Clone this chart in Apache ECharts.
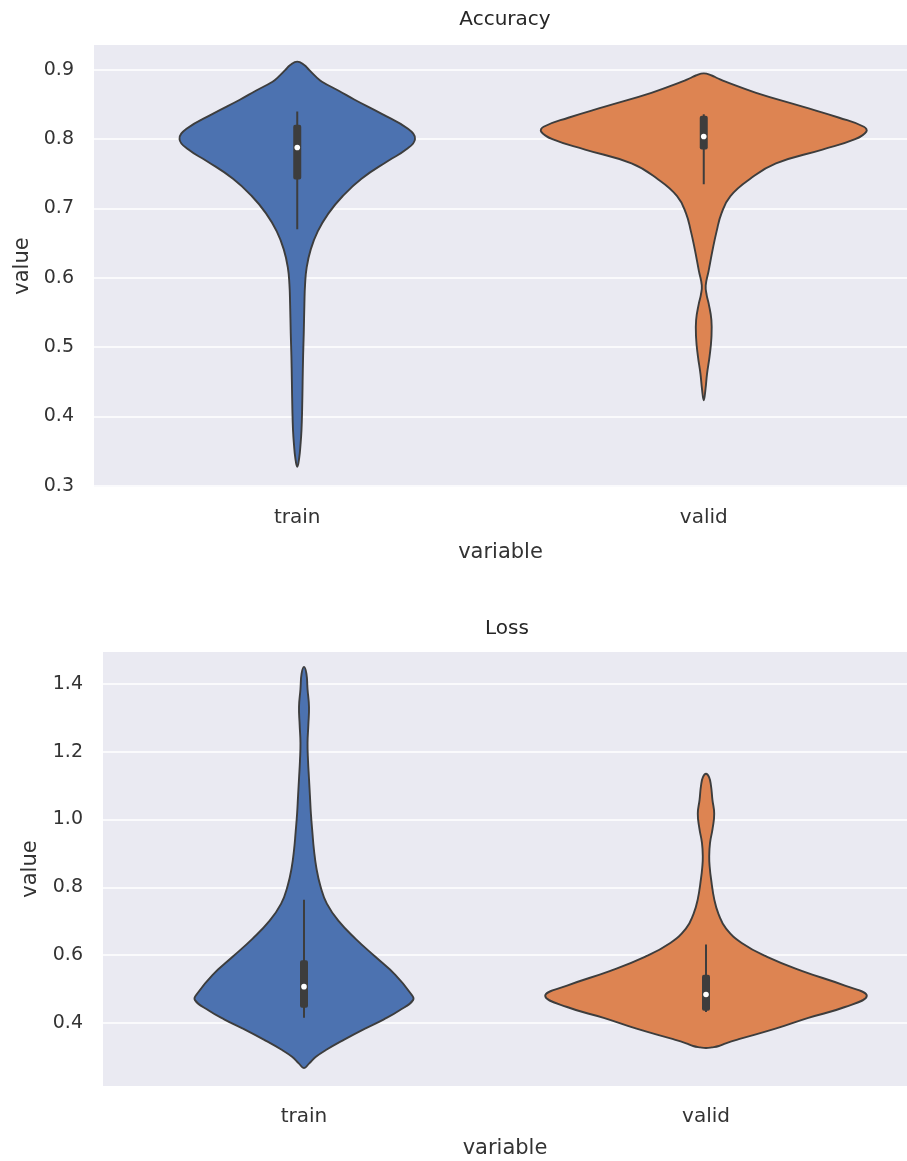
<!DOCTYPE html>
<html><head><meta charset="utf-8">
<script src="https://cdn.jsdelivr.net/npm/echarts@6/dist/echarts.min.js"></script>
<style>html,body{margin:0;padding:0;background:#fff}#c{width:907px;height:1161px}</style>
</head><body><div id="c"></div>
<script>
// ---------- data ----------
const categories = ['train', 'valid'];
const titles = ['Accuracy', 'Loss'];
const accTicks = [0.3, 0.4, 0.5, 0.6, 0.7, 0.8, 0.9];
const lossTicks = [0.4, 0.6, 0.8, 1.0, 1.2, 1.4];

// Accuracy - train : value levels and relative density (1 = widest violin)
const accTrainY = [0.912, 0.907, 0.900, 0.890, 0.883, 0.870, 0.857, 0.837, 0.815, 0.800, 0.785, 0.769, 0.743, 0.718, 0.693, 0.667, 0.641, 0.615, 0.590, 0.563, 0.520, 0.487, 0.450, 0.410, 0.380, 0.359, 0.340, 0.327];
const accTrainD = [0, 0.043, 0.073, 0.116, 0.152, 0.255, 0.353, 0.517, 0.681, 0.724, 0.669, 0.560, 0.395, 0.280, 0.192, 0.126, 0.083, 0.058, 0.048, 0.044, 0.040, 0.036, 0.033, 0.030, 0.026, 0.020, 0.012, 0];
// Accuracy - valid
const accValidY = [0.895, 0.892, 0.888, 0.883, 0.867, 0.847, 0.831, 0.818, 0.811, 0.800, 0.785, 0.765, 0.743, 0.718, 0.693, 0.667, 0.641, 0.610, 0.589, 0.575, 0.563, 0.539, 0.513, 0.487, 0.461, 0.440, 0.423];
const accValidD = [0, 0.049, 0.085, 0.134, 0.322, 0.608, 0.833, 0.985, 1.0, 0.931, 0.730, 0.444, 0.286, 0.164, 0.109, 0.079, 0.055, 0.030, 0.012, 0.018, 0.030, 0.047, 0.047, 0.036, 0.020, 0.011, 0];
// Loss - train
const lossTrainY = [1.450, 1.430, 1.384, 1.332, 1.279, 1.226, 1.174, 1.121, 1.069, 1.017, 0.963, 0.910, 0.857, 0.804, 0.752, 0.700, 0.648, 0.595, 0.542, 0.489, 0.468, 0.436, 0.410, 0.384, 0.350, 0.320, 0.300, 0.280, 0.267];
const lossTrainD = [0, 0.015, 0.022, 0.031, 0.027, 0.022, 0.025, 0.031, 0.037, 0.043, 0.052, 0.062, 0.077, 0.102, 0.142, 0.216, 0.321, 0.444, 0.568, 0.660, 0.679, 0.590, 0.494, 0.383, 0.247, 0.136, 0.074, 0.031, 0];
// Loss - valid
const lossValidY = [1.135, 1.125, 1.100, 1.058, 1.017, 0.973, 0.931, 0.890, 0.860, 0.826, 0.763, 0.721, 0.678, 0.636, 0.595, 0.553, 0.510, 0.480, 0.447, 0.415, 0.383, 0.352, 0.340, 0.332, 0.328, 0.326];
const lossValidD = [0, 0.019, 0.031, 0.040, 0.051, 0.041, 0.025, 0.020, 0.023, 0.031, 0.052, 0.078, 0.125, 0.222, 0.380, 0.599, 0.864, 1.0, 0.864, 0.636, 0.432, 0.204, 0.123, 0.080, 0.037, 0];

// inner box stats: [whisker low, q1, median, q3, whisker high]
const accTrainBox = [0.670, 0.742, 0.788, 0.821, 0.840];
const accValidBox = [0.735, 0.785, 0.804, 0.834, 0.836];
const lossTrainBox = [0.415, 0.445, 0.507, 0.585, 0.763];
const lossValidBox = [0.432, 0.436, 0.484, 0.542, 0.631];

const palette = ['#4c72b0', '#dd8452'];
const lineColor = '#3d3d3d';
const textColor = '#333333';
const FONT = 'DejaVu Sans';

// ---------- chart ----------
function violin(gridIdx, catIdx, ys, ds, box) {
  return {
    type: 'custom',
    xAxisIndex: gridIdx,
    yAxisIndex: gridIdx,
    clip: false,
    silent: true,
    data: [[catIdx, box[2]]],
    encode: { x: 0, y: 1 },
    renderItem: function (params, api) {
      const half = api.size([1, 0])[0] * 0.4;
      const n = ys.length;
      const left = [], right = [];
      for (let i = 0; i < n; i++) {
        const p = api.coord([catIdx, ys[i]]);
        left.push([p[0] - ds[i] * half, p[1]]);
        right.push([p[0] + ds[i] * half, p[1]]);
      }
      const pts = left.slice();
      for (let i = n - 2; i >= 1; i--) pts.push(right[i]);
      const c = api.coord([catIdx, box[2]]);
      const wl = api.coord([catIdx, box[0]]);
      const q1 = api.coord([catIdx, box[1]]);
      const q3 = api.coord([catIdx, box[3]]);
      const wh = api.coord([catIdx, box[4]]);
      const bw = 8;
      return {
        type: 'group',
        children: [
          { type: 'polygon', shape: { points: pts, smooth: 0.45 },
            style: { fill: palette[catIdx], stroke: lineColor, lineWidth: 1.9 } },
          { type: 'line', shape: { x1: c[0], y1: wl[1], x2: c[0], y2: wh[1] },
            style: { stroke: lineColor, lineWidth: 2 } },
          { type: 'rect', shape: { x: c[0] - bw / 2, y: q3[1], width: bw, height: q1[1] - q3[1], r: 2 },
            style: { fill: lineColor } },
          { type: 'circle', shape: { cx: c[0], cy: c[1], r: 2.8 },
            style: { fill: '#ffffff' } }
        ]
      };
    }
  };
}

function yAxis(gridIdx, min, max, ticks, gap) {
  return {
    type: 'value', gridIndex: gridIdx, min: min, max: max,
    axisLine: { show: false },
    axisTick: { show: false, customValues: ticks },
    axisLabel: { customValues: ticks, formatter: v => Number(v).toFixed(1),
      fontSize: 19, color: textColor, margin: 20, fontFamily: FONT },
    splitLine: { show: true, lineStyle: { color: '#ffffff', width: 1.6 } },
    name: 'value', nameLocation: 'middle', nameGap: gap,
    nameTextStyle: { fontSize: 21, color: textColor, fontFamily: FONT }
  };
}

function xAxis(gridIdx, gap) {
  return {
    type: 'category', gridIndex: gridIdx, data: categories,
    axisLine: { show: false }, axisTick: { show: false },
    axisLabel: { fontSize: 20, color: textColor, margin: 21, fontFamily: FONT },
    splitLine: { show: false },
    name: 'variable', nameLocation: 'middle', nameGap: gap,
    nameTextStyle: { fontSize: 21, color: textColor, fontFamily: FONT }
  };
}

const chart = echarts.init(document.getElementById('c'), null, { renderer: 'canvas' });
chart.setOption({
  animation: false,
  backgroundColor: '#ffffff',
  textStyle: { fontFamily: FONT },
  title: [
    { text: titles[0], left: 505, top: 10, textAlign: 'center', padding: 0,
      textStyle: { fontSize: 20, fontWeight: 'normal', color: '#262626', fontFamily: FONT } },
    { text: titles[1], left: 507, top: 619, textAlign: 'center', padding: 0,
      textStyle: { fontSize: 20, fontWeight: 'normal', color: '#262626', fontFamily: FONT } }
  ],
  grid: [
    { left: 94, top: 45, width: 822, height: 442, show: true, backgroundColor: '#eaeaf2', borderWidth: 0, containLabel: false },
    { left: 103, top: 652, width: 810, height: 434, show: true, backgroundColor: '#eaeaf2', borderWidth: 0, containLabel: false }
  ],
  xAxis: [xAxis(0, 55), xAxis(1, 52)],
  yAxis: [yAxis(0, 0.298, 0.936, accTicks, 59), yAxis(1, 0.214, 1.494, lossTicks, 62)],
  series: [
    violin(0, 0, accTrainY, accTrainD, accTrainBox),
    violin(0, 1, accValidY, accValidD, accValidBox),
    violin(1, 0, lossTrainY, lossTrainD, lossTrainBox),
    violin(1, 1, lossValidY, lossValidD, lossValidBox)
  ]
});
</script>
</body></html>
